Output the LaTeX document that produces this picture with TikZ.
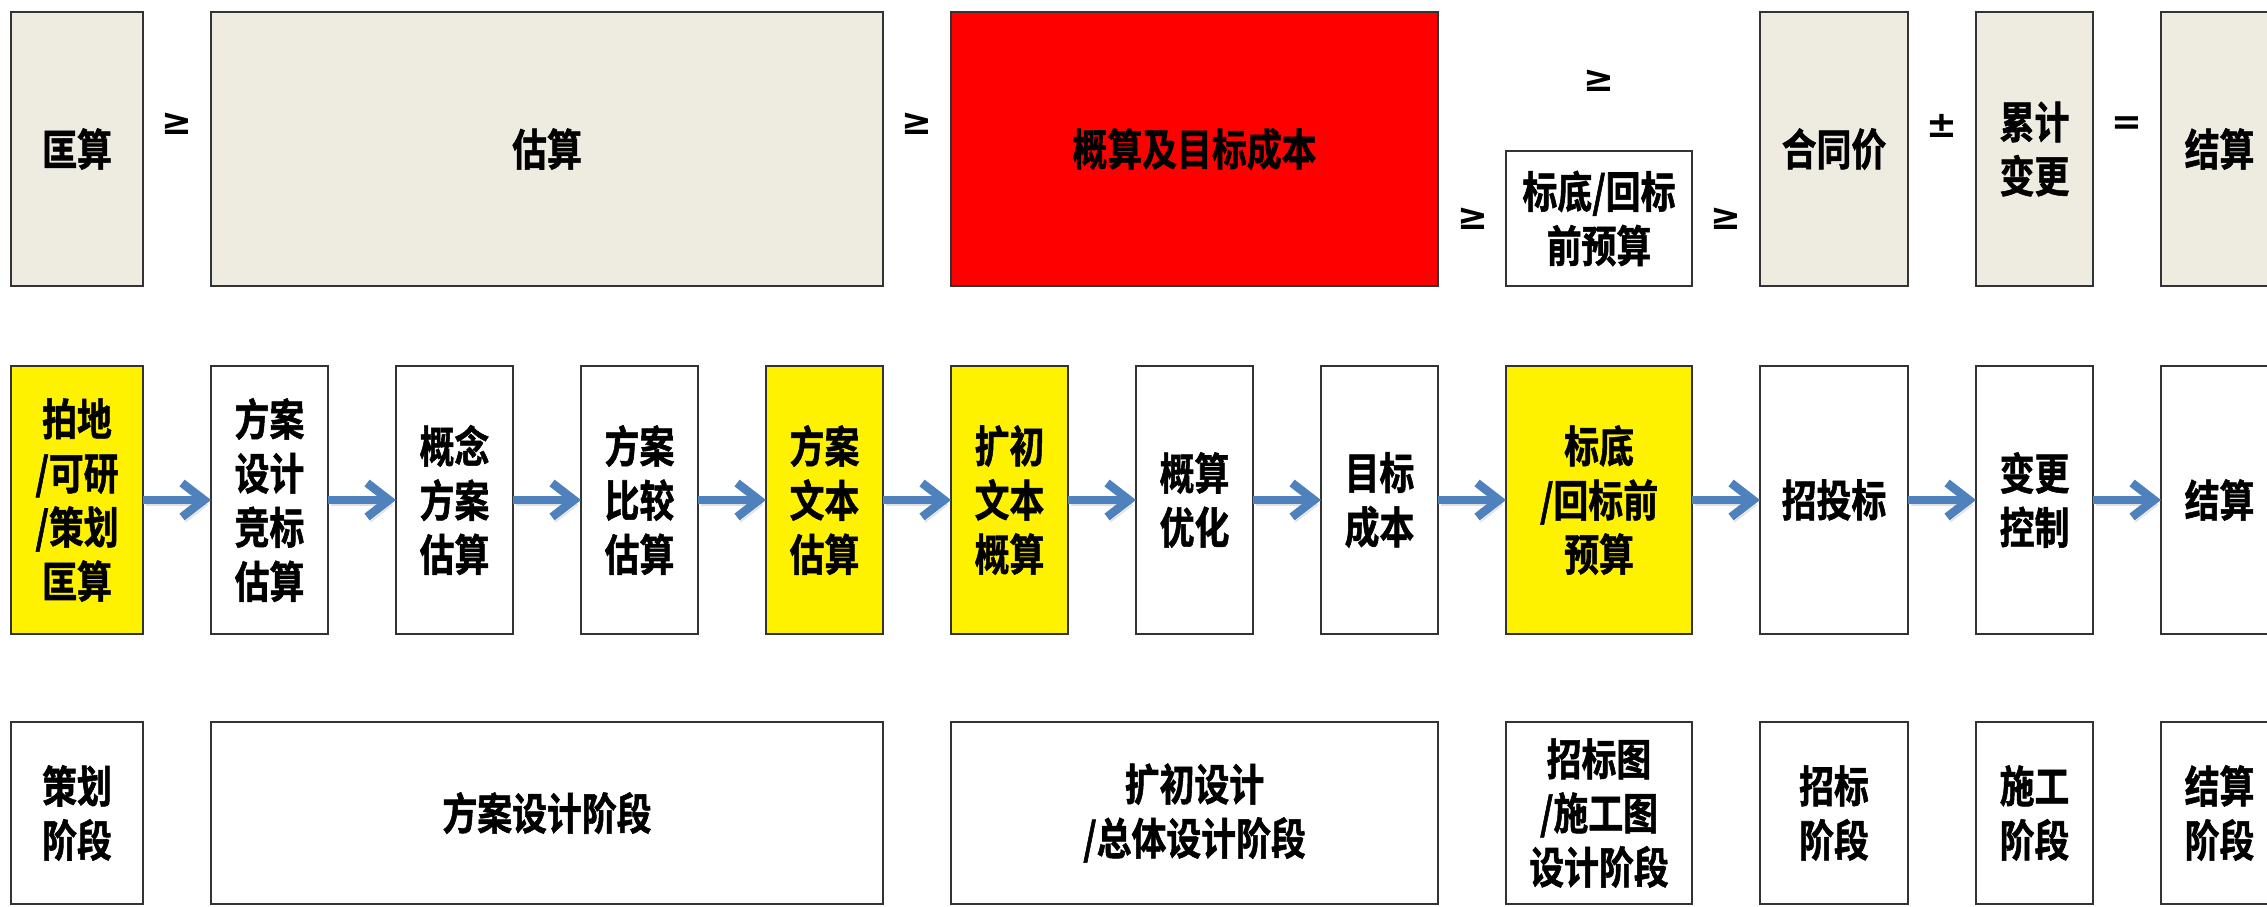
\documentclass[tikz,border=0pt]{standalone}
\usepackage{fontspec}
\usetikzlibrary{positioning,arrows.meta}
\newfontfamily\cjk{Noto Sans CJK SC}[BoldFont={Noto Sans CJK SC Bold},BoldFeatures={FakeBold=1.2},FakeStretch=0.8]
\newfontfamily\signs{DejaVu Sans}[BoldFont={DejaVu Sans Bold}]
\newcommand{\boxfont}{\cjk\bfseries\fontsize{12.4}{15.4}\selectfont}
\newcommand{\signfont}{\signs\bfseries\fontsize{10.5}{12}\selectfont}
\definecolor{paper}{HTML}{EEECE1}
\definecolor{flowblue}{HTML}{4F81BD}

\begin{document}
\begin{tikzpicture}[
    node distance=6.8mm,
    every node/.style={font=\boxfont, align=center, inner sep=0pt, outer sep=0pt},
    box/.style={draw=black!80, line width=0.2mm, minimum width=11.7mm},
    cost/.style={box, fill=paper, minimum height=27.4mm},
    work/.style={box, minimum height=26.8mm},
    phase/.style={box, minimum height=18.2mm},
    sign/.style={font=\signfont, anchor=center},
    flow/.style={draw=flowblue, line width=0.85mm,
      -{Straight Barb[length=2.2mm,width=3.4mm]},
      preaction={draw=black, draw opacity=0.12, transform canvas={xshift=0.3mm,yshift=-0.5mm}}}
  ]
      \useasboundingbox (0,0) rectangle (226.7mm,-90.6mm);

      \node[cost, minimum width=13.2mm, anchor=north west] (kuang) at (1.1mm,-1.2mm) {匡算};
      \node[cost, minimum width=67.2mm, right=of kuang] (gu) {估算};
      \node[cost, minimum width=48.7mm, fill=red, right=of gu] (gai) {概算及目标成本};
      \node[box, minimum width=18.6mm, minimum height=13.5mm, right=of gai.south east, anchor=south west] (biaodi) {标底/回标\\前预算};
      \node[cost, minimum width=14.8mm, right=of biaodi.south east, anchor=south west] (hetong) {合同价};
      \node[cost, right=of hetong] (leiji) {累计\\变更};
      \node[cost, right=of leiji] (jiesuan) {结算};

      \node[sign, right=3.4mm of kuang, anchor=center, yshift=2.5mm] (ge1) {≥};
      \node[sign, right=3.4mm of gu, anchor=center, yshift=2.5mm] (ge2) {≥};
      \node[sign, left=3.35mm of biaodi, anchor=center] (ge3) {≥};
      \node[sign, above=7mm of biaodi, anchor=center] (ge4) {≥};
      \node[sign, right=3.4mm of biaodi, anchor=center] (ge5) {≥};
      \node[sign, right=3.4mm of hetong, anchor=center, yshift=2.3mm] (pm) {±};
      \node[sign, right=3.4mm of leiji, anchor=center, yshift=2.3mm] (eq) {=};

      \node[work, fill=yellow, minimum width=13.2mm, below=8mm of kuang] (s1) {拍地\\/可研\\/策划\\匡算};
      \node[work, right=of s1] (s2) {方案\\设计\\竞标\\估算};
      \node[work, right=of s2] (s3) {概念\\方案\\估算};
      \node[work, right=of s3] (s4) {方案\\比较\\估算};
      \node[work, fill=yellow, right=of s4] (s5) {方案\\文本\\估算};
      \node[work, fill=yellow, right=of s5] (s6) {扩初\\文本\\概算};
      \node[work, right=of s6] (s7) {概算\\优化};
      \node[work, right=of s7] (s8) {目标\\成本};
      \node[work, fill=yellow, minimum width=18.6mm, right=of s8] (s9) {标底\\/回标前\\预算};
      \node[work, minimum width=14.8mm, right=of s9] (s10) {招投标};
      \node[work, right=of s10] (s11) {变更\\控制};
      \node[work, right=of s11] (s12) {结算};

      \foreach \a [count=\b from 2] in {1,...,11}
        \draw[flow] (s\a) -- (s\b);

      \node[phase, minimum width=13.2mm, below=8.8mm of s1] (p1) {策划\\阶段};
      \node[phase, minimum width=67.2mm, right=of p1] (p2) {方案设计阶段};
      \node[phase, minimum width=48.7mm, right=of p2] (p3) {扩初设计\\/总体设计阶段};
      \node[phase, minimum width=18.6mm, right=of p3] (p4) {招标图\\/施工图\\设计阶段};
      \node[phase, minimum width=14.8mm, right=of p4] (p5) {招标\\阶段};
      \node[phase, right=of p5] (p6) {施工\\阶段};
      \node[phase, right=of p6] (p7) {结算\\阶段};
    \end{tikzpicture}
\end{document}
